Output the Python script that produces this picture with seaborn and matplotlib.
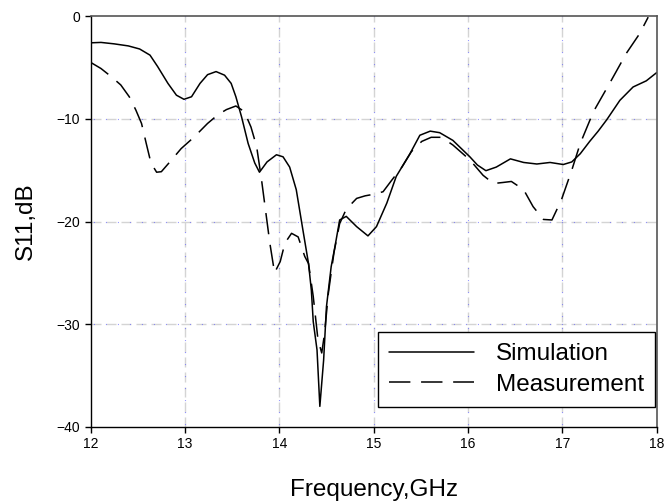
import numpy as np
import pandas as pd
import matplotlib
matplotlib.use("Agg")
import matplotlib.pyplot as plt
import seaborn as sns

# simulated S11
sim_freq = [12.0, 12.11, 12.25, 12.40, 12.52, 12.63, 12.71, 12.82, 12.91, 12.99,
            13.07, 13.16, 13.24, 13.33, 13.42, 13.49, 13.54, 13.60, 13.67, 13.74,
            13.79, 13.87, 13.97, 14.04, 14.11, 14.18, 14.25, 14.31, 14.34, 14.36,
            14.40, 14.43, 14.47, 14.50, 14.55, 14.59, 14.64, 14.71, 14.82, 14.94,
            15.03, 15.14, 15.24, 15.385, 15.49, 15.60, 15.70, 15.84, 16.02, 16.10,
            16.19, 16.30, 16.45, 16.59, 16.73, 16.87, 17.01, 17.10, 17.19, 17.29,
            17.38, 17.47, 17.61, 17.75, 17.89, 18.0]
sim_s11 = [-2.6, -2.56, -2.7, -2.9, -3.2, -3.8, -4.9, -6.55, -7.7, -8.1,
           -7.85, -6.55, -5.7, -5.4, -5.75, -6.55, -7.85, -9.8, -12.4, -14.3,
           -15.2, -14.2, -13.5, -13.7, -14.7, -16.9, -20.8, -24.1, -26.7, -29.75,
           -32.5, -38.0, -33.5, -28.3, -24.4, -22.45, -19.85, -19.5, -20.5, -21.4,
           -20.5, -18.2, -15.6, -13.4, -11.6, -11.2, -11.35, -12.1, -13.7, -14.5,
           -15.05, -14.7, -13.9, -14.25, -14.4, -14.25, -14.45, -14.2, -13.4, -12.2,
           -11.2, -10.1, -8.2, -6.9, -6.3, -5.5]

# measured S11
meas_freq = [12.0, 12.11, 12.22, 12.32, 12.41, 12.48, 12.54, 12.59, 12.64, 12.70,
             12.75, 12.84, 12.96, 13.10, 13.24, 13.35, 13.44, 13.54, 13.63, 13.70,
             13.76, 13.81, 13.85, 13.90, 13.95, 14.01, 14.06, 14.13, 14.20, 14.27,
             14.31, 14.36, 14.41, 14.45, 14.48, 14.52, 14.58, 14.64, 14.71, 14.82,
             14.91, 15.0, 15.10, 15.19, 15.30, 15.40, 15.51, 15.61, 15.72, 15.84,
             16.02, 16.16, 16.27, 16.37, 16.46, 16.59, 16.69, 16.80, 16.89, 16.99,
             17.10, 17.19, 17.33, 17.51, 17.68, 17.82, 17.91]
meas_s11 = [-4.5, -5.1, -5.9, -6.7, -7.85, -9.15, -10.45, -12.4, -14.3, -15.2,
            -15.15, -14.2, -12.9, -11.75, -10.45, -9.6, -9.1, -8.75, -9.3, -10.8,
            -12.7, -15.8, -18.6, -22.1, -25.0, -23.9, -22.1, -21.15, -21.5, -23.4,
            -24.1, -27.3, -31.5, -32.8, -30.9, -27.0, -23.0, -20.2, -18.8, -17.75,
            -17.5, -17.35, -17.1, -16.0, -14.7, -13.2, -12.2, -11.8, -11.8, -12.55,
            -14.0, -15.5, -16.3, -16.2, -16.1, -16.9, -18.55, -19.8, -19.85, -17.9,
            -15.0, -12.4, -9.3, -6.4, -3.6, -1.7, -0.1]

x_ticks = [12, 13, 14, 15, 16, 17, 18]
y_ticks = [-40, -30, -20, -10, 0]

sns.set_style("white")
plt.rcParams['font.family'] = ['Liberation Sans', 'DejaVu Sans']
plt.rcParams['text.color'] = 'black'
plt.rcParams['axes.labelcolor'] = 'black'
plt.rcParams['xtick.color'] = 'black'
plt.rcParams['ytick.color'] = 'black'

fig = plt.figure(figsize=(6.66, 5.04), dpi=100)
ax = fig.add_axes([0.136, 0.153, 0.85, 0.815])

# grid: light grey dashes with small blue dots in the gaps
for xv in x_ticks[1:-1]:
    ax.axvline(xv, color='#d4d4d4', lw=1.0, ls=(0, (7.2, 3.6)), zorder=0)
    ax.axvline(xv, color='#5a5aff', lw=0.8, ls=(8.6, (0.6, 10.2)), zorder=0)
for yv in y_ticks[1:-1]:
    ax.axhline(yv, color='#d4d4d4', lw=1.0, ls=(0, (7.2, 3.6)), zorder=0)
    ax.axhline(yv, color='#5a5aff', lw=0.8, ls=(8.6, (0.6, 10.2)), zorder=0)

sim = pd.DataFrame({'f': sim_freq, 's': sim_s11})
meas = pd.DataFrame({'f': meas_freq, 's': meas_s11})
sns.lineplot(data=sim, x='f', y='s', ax=ax, color='black', lw=1.1,
             sort=False, estimator=None, label='Simulation')
sns.lineplot(data=meas, x='f', y='s', ax=ax, color='black', lw=1.1,
             sort=False, estimator=None, label='Measurement')
ax.lines[-1].set_linestyle((0, (14, 7)))

ax.set_xlim(12, 18)
ax.set_ylim(-40, 0)
ax.set_xticks(x_ticks)
ax.set_yticks(y_ticks)
ax.tick_params(axis='both', direction='out', length=4, width=1,
               labelsize=10, bottom=True, left=True, colors='black')
ax.set_xlabel('Frequency,GHz', fontsize=17.5, labelpad=20)
ax.set_ylabel('S11,dB', fontsize=17.5, labelpad=14)

for side in ['left', 'bottom']:
    ax.spines[side].set_color('black')
    ax.spines[side].set_linewidth(1.0)
for side in ['top', 'right']:
    ax.spines[side].set_color('#555555')
    ax.spines[side].set_linewidth(1.2)

leg = ax.legend(loc='lower right', bbox_to_anchor=(0.997, 0.049),
                borderaxespad=0, fancybox=False, frameon=True, framealpha=1,
                edgecolor='black', fontsize=17.5, handlelength=3.5,
                handletextpad=0.9, borderpad=0.45, labelspacing=0.35)
leg.get_frame().set_linewidth(1.0)

fig.savefig('out.png', dpi=100)
